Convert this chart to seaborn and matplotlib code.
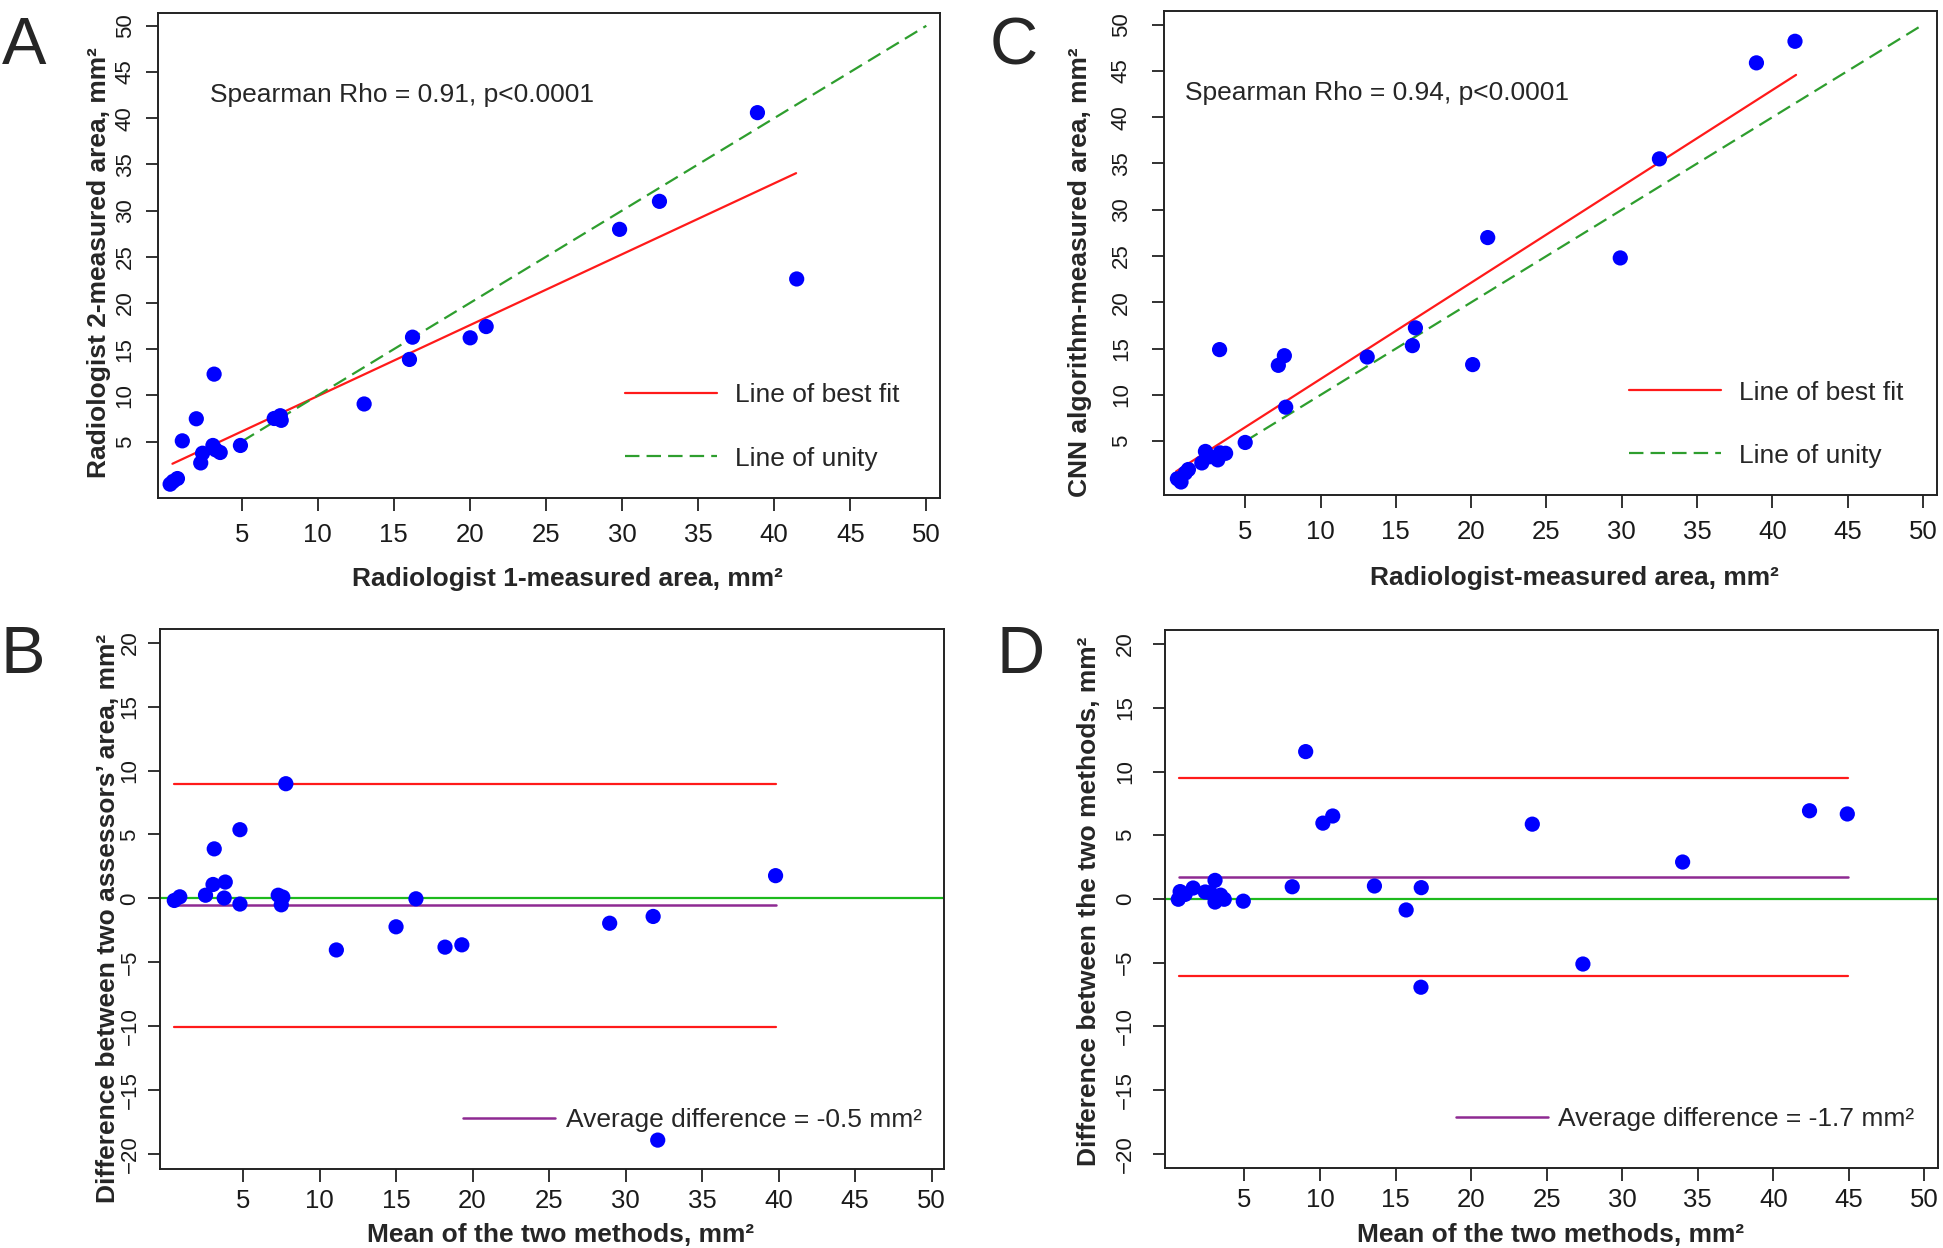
import matplotlib
matplotlib.use("Agg")
import matplotlib.pyplot as plt
import seaborn as sns
import pandas as pd

# ---- data ----
# A: radiologist 1 vs radiologist 2
a_x = [38.9, 32.46, 29.84, 41.48, 21.07, 20.02, 16.23, 16.03, 13.05, 3.19, 2.02, 1.10,
       4.92, 3.11, 2.43, 3.59, 2.31, 3.3, 7.14, 7.54, 7.6, 0.78, 0.3, 0.5]
a_y = [40.6, 31.0, 27.97, 22.6, 17.45, 16.23, 16.3, 13.89, 9.07, 12.3, 7.47, 5.08,
       4.58, 4.58, 3.74, 3.82, 2.69, 4.1, 7.5, 7.8, 7.3, 1.0, 0.39, 0.7]
a_fit_x = [0.45, 41.44]
a_fit_y = [2.6, 34.05]

# C: radiologist vs CNN
c_x = [41.5, 38.94, 32.5, 21.1, 29.9, 16.3, 16.1, 20.1, 13.1, 3.30, 7.2, 7.6,
       7.69, 5.0, 2.36, 2.12, 3.18, 3.7, 3.34, 2.65, 1.23, 1.02, 0.5, 0.74]
c_y = [48.2, 45.87, 35.5, 27.0, 24.8, 17.25, 15.33, 13.28, 14.1, 14.9, 13.2, 14.24,
       8.68, 4.87, 3.9, 2.66, 2.99, 3.7, 3.74, 3.33, 1.95, 1.57, 0.95, 0.6]
c_fit_x = [0.41, 41.57]
c_fit_y = [1.74, 44.57]

unity = [5, 50]

# B: Bland-Altman, radiologist 1 vs 2
b_mean = [7.8, 4.8, 3.12, 3.04, 3.84, 3.77, 2.55, 4.8, 0.87, 0.51, 7.3, 7.6,
          7.5, 11.1, 15.0, 16.3, 18.2, 19.3, 28.96, 31.8, 39.8, 32.1]
b_diff = [8.97, 5.375, 3.875, 1.09, 1.28, 0.03, 0.25, -0.44, 0.125, -0.16, 0.25, 0.1,
          -0.5, -4.03, -2.22, -0.03, -3.81, -3.63, -1.94, -1.41, 1.78, -18.9]
b_limits = [8.97, -10.05]
b_avg = -0.53
b_span = [0.51, 39.85]

# D: Bland-Altman, radiologist vs CNN
d_mean = [9.05, 10.19, 10.84, 24.05, 42.4, 44.9, 34.0, 8.16, 13.6, 16.7, 15.7, 16.68,
          27.4, 4.92, 3.05, 3.42, 3.66, 3.05, 2.40, 1.6, 1.07, 0.74, 0.62, 2.73]
d_diff = [11.56, 5.95, 6.51, 5.87, 6.92, 6.67, 2.90, 0.96, 1.02, 0.89, -0.86, -6.92,
          -5.1, -0.17, 1.46, 0.3, -0.02, -0.24, 0.55, 0.86, 0.36, 0.58, -0.02, 0.49]
d_limits = [9.46, -6.04]
d_avg = 1.71
d_span = [0.66, 44.93]

scatter_ticks = [5, 10, 15, 20, 25, 30, 35, 40, 45, 50]
ba_yticks = [-20, -15, -10, -5, 0, 5, 10, 15, 20]

BLUE = "#0000FF"
RED = "#FF1A1A"
DGREEN = "#2E9E2E"
GREEN = "#1DBA1D"
PURPLE = "#8E2A92"
FS = 19      # annotation / legend text
LFS = 19     # axis labels
XT = 18.5    # x tick labels
YT = 16      # y tick labels

sns.set_theme(style="white")
plt.rcParams["font.family"] = ["Liberation Sans", "DejaVu Sans"]

fig = plt.figure(figsize=(19.43, 12.48), dpi=100)


def style_axes(ax, xpad, ypad):
    for s in ax.spines.values():
        s.set_color("#222222")
        s.set_linewidth(1.4)
    ax.tick_params(axis="both", which="both", direction="out", length=9, width=1.3,
                   color="#222222", labelcolor="#1a1a1a", bottom=True, left=True)
    ax.tick_params(axis="x", pad=xpad, labelsize=XT)
    ax.tick_params(axis="y", pad=ypad, labelsize=YT, labelrotation=90)
    for lab in ax.get_yticklabels():
        lab.set_va("center")


def scatter_panel(ax, x, y, fit_x, fit_y, rho_text, rho_x, xlabel, ylabel, xlim, ylim,
                  xpad, ypad, xlab_pos, ylab_pos, leg_x):
    df = pd.DataFrame({"x": x, "y": y})
    ax.plot(fit_x, fit_y, color=RED, lw=1.6, label="Line of best fit")
    ax.plot(unity, unity, color=DGREEN, lw=1.6, dashes=(6.5, 3.2), label="Line of unity")
    sns.scatterplot(data=df, x="x", y="y", ax=ax, color=BLUE, s=120, edgecolor="none",
                    zorder=3)
    ax.set_xlim(*xlim)
    ax.set_ylim(*ylim)
    ax.set_xticks(scatter_ticks)
    ax.set_yticks(scatter_ticks)
    style_axes(ax, xpad, ypad)
    ax.set_xlabel(xlabel, fontsize=LFS, fontweight="bold")
    ax.set_ylabel(ylabel, fontsize=LFS, fontweight="bold")
    ax.xaxis.set_label_coords(*xlab_pos)
    ax.yaxis.set_label_coords(*ylab_pos)
    ax.text(rho_x, 0.83, rho_text, transform=ax.transAxes, fontsize=FS, va="center",
            ha="left")
    ax.legend(loc="upper left", bbox_to_anchor=(leg_x, 0.236), frameon=False,
              fontsize=FS, borderpad=0, borderaxespad=0, handlelength=3.5,
              handletextpad=0.68, labelspacing=1.48)


def ba_panel(ax, x, y, limits, avg, span, avg_text, ylabel, xlim, ylim, xpad, ypad,
             xlab_pos, ylab_pos, leg_x, leg_pad):
    df = pd.DataFrame({"x": x, "y": y})
    ax.axhline(0, color=GREEN, lw=1.6)
    for lim in limits:
        ax.plot(span, [lim, lim], color=RED, lw=1.6)
    ax.plot(span, [avg, avg], color=PURPLE, lw=1.8, label=avg_text)
    sns.scatterplot(data=df, x="x", y="y", ax=ax, color=BLUE, s=120, edgecolor="none",
                    zorder=3)
    ax.set_xlim(*xlim)
    ax.set_ylim(*ylim)
    ax.set_xticks(scatter_ticks)
    ax.set_yticks(ba_yticks)
    style_axes(ax, xpad, ypad)
    ax.set_xlabel("Mean of the two methods, mm²", fontsize=LFS, fontweight="bold")
    ax.set_ylabel(ylabel, fontsize=LFS, fontweight="bold")
    ax.xaxis.set_label_coords(*xlab_pos)
    ax.yaxis.set_label_coords(*ylab_pos)
    ax.legend(loc="upper left", bbox_to_anchor=(leg_x, 0.113), frameon=False,
              fontsize=FS, borderpad=0, borderaxespad=0, handlelength=3.5,
              handletextpad=leg_pad)


axA = fig.add_axes([0.0813, 0.601, 0.4025, 0.3887])
scatter_panel(axA, a_x, a_y, a_fit_x, a_fit_y, "Spearman Rho = 0.91, p<0.0001", 0.067,
              "Radiologist 1-measured area, mm²", "Radiologist 2-measured area, mm²",
              (-0.5, 50.9), (-1.1, 51.4), 9, 7, (0.524, -0.143), (-0.06, 0.485), 0.597)

axC = fig.add_axes([0.599, 0.6034, 0.3977, 0.388])
scatter_panel(axC, c_x, c_y, c_fit_x, c_fit_y, "Spearman Rho = 0.94, p<0.0001", 0.028,
              "Radiologist-measured area, mm²", "CNN algorithm-measured area, mm²",
              (-0.4, 50.9), (-0.8, 51.5), 9, 14, (0.531, -0.147), (-0.093, 0.459), 0.602)

axB = fig.add_axes([0.0823, 0.0633, 0.4035, 0.4327])
ba_panel(axB, b_mean, b_diff, b_limits, b_avg, b_span, "Average difference = -0.5 mm²",
         "Difference between two assessors’ area, mm²", (-0.43, 50.8), (-21.16, 21.07),
         5.5, 5, (0.511, -0.1), (-0.0505, 0.4635), 0.386, 0.42)

axD = fig.add_axes([0.5996, 0.0641, 0.3978, 0.4311])
ba_panel(axD, d_mean, d_diff, d_limits, d_avg, d_span, "Average difference = -1.7 mm²",
         "Difference between the two methods, mm²", (-0.26, 50.9), (-21.1, 21.1),
         5.5, 12, (0.499, -0.102), (-0.083, 0.4955), 0.376, 0.38)

# panel letters
for letter, x, y in [("A", 0.001, 0.962), ("C", 0.5095, 0.962),
                     ("B", 0.0, 0.4745), ("D", 0.5130, 0.4745)]:
    fig.text(x, y, letter, fontsize=48, ha="left", va="center")

fig.savefig("out.png", dpi=100)
